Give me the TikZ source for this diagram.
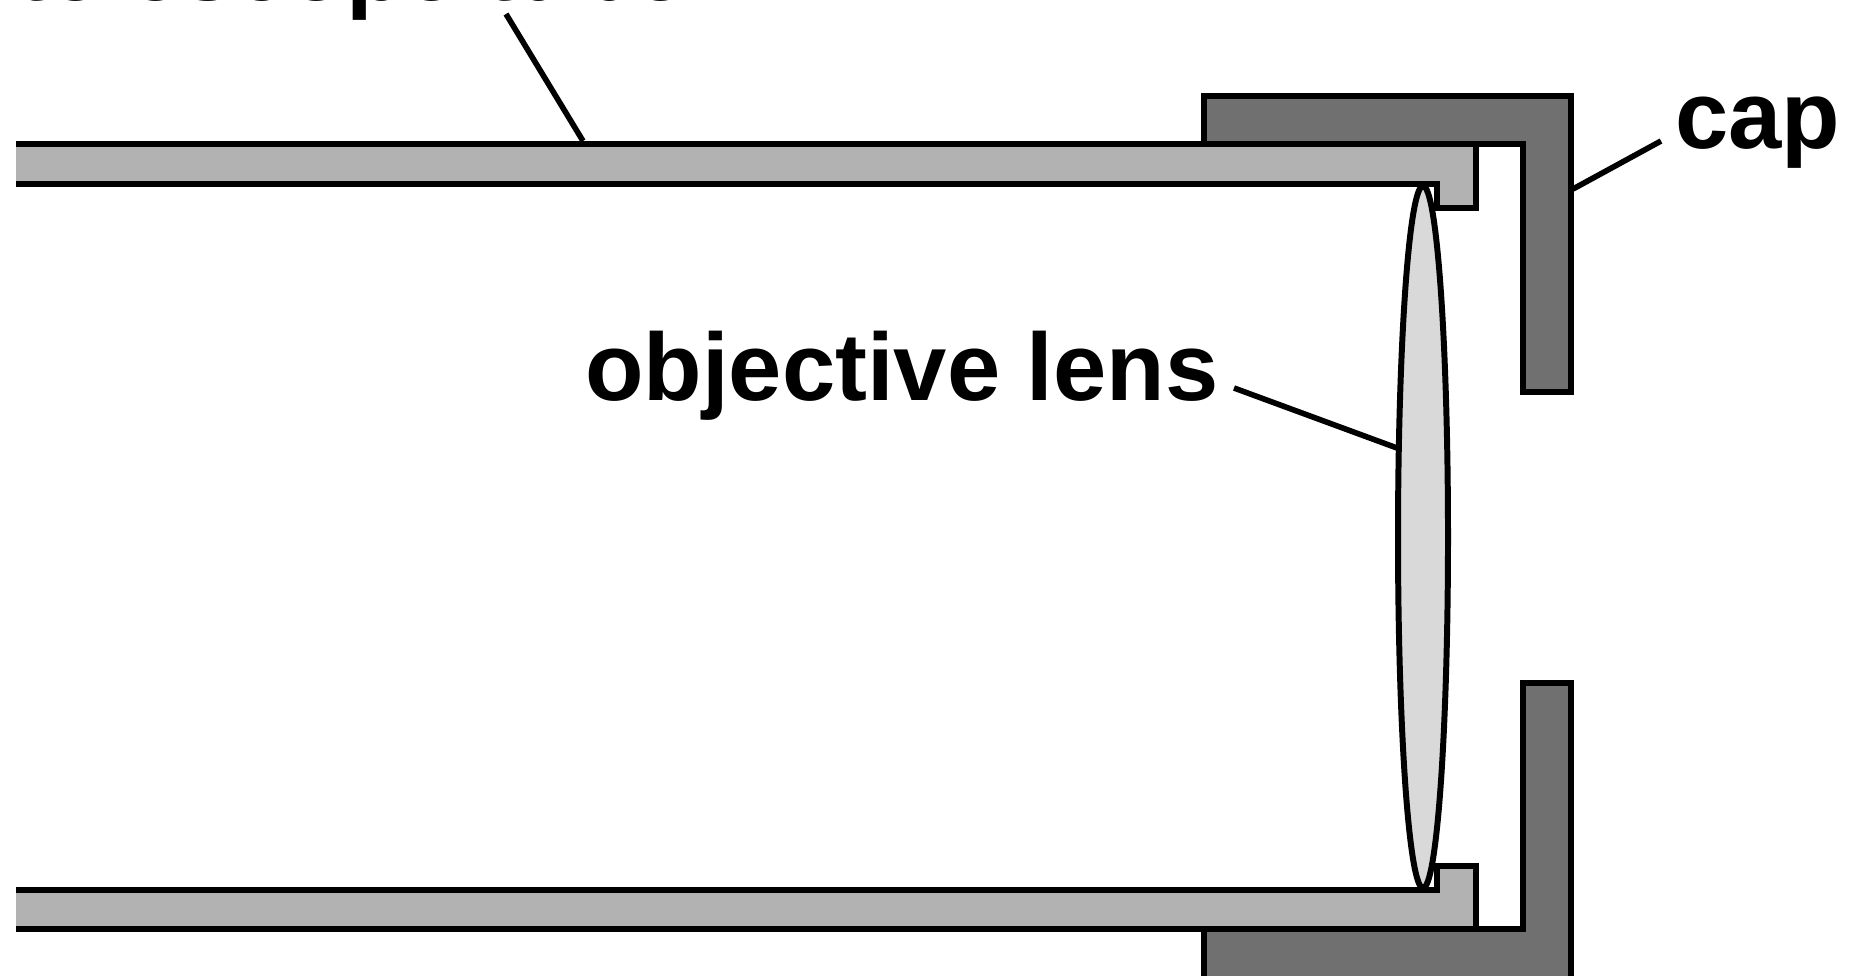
\documentclass[tikz,border=0pt]{standalone}
\usepackage{fontspec}
\setmainfont{Liberation Sans}
\usetikzlibrary{positioning}
\definecolor{tubegray}{RGB}{178,178,178}
\definecolor{capgray}{RGB}{112,112,112}
\definecolor{lensgray}{RGB}{217,217,217}
\tikzset{
  part/.style={draw=black, line width=3.8pt, miter limit=10},
  leader/.style={draw=black, line width=3.2pt},
  label/.style={anchor=base west, inner sep=0pt, font=\fontsize{54.5}{62}\selectfont\bfseries},
}

\begin{document}
\begin{tikzpicture}[x=0.02cm, y=-0.02cm]
  \clip (0,0) rectangle (1855,976);
  \fill[white] (0,0) rectangle (1855,976);
  % cap
  \path[part, fill=capgray] (1204,144) -- (1204,96) -- (1571,96) -- (1571,392) -- (1523,392) -- (1523,144) -- cycle;
  \path[part, fill=capgray] (1204,990) -- (1204,929) -- (1523,929) -- (1523,683) -- (1571,683) -- (1571,990);
  % tube
  \path[part, fill=tubegray] (16,144) -- (1476,144) -- (1476,208) -- (1437,208) -- (1437,184) -- (16,184);
  \path[part, fill=tubegray] (16,890) -- (1437,890) -- (1437,866) -- (1476,866) -- (1476,929) -- (16,929);
  % lens
  \path[draw=black, line width=3.4pt, fill=lensgray] (1423,537) ellipse [x radius=25, y radius=351];
  % labels
  \node[label] (tubelabel) at (16,1) {telescope tube};
  \node[label] (lenslabel) at (585,400) {objective lens};
  \node[label] (caplabel) at (1675,149) {cap};
  \coordinate (tubefrom) at (506,14);
  \coordinate (tubeto) at (583,141);
  \coordinate (lensfrom) at (1234,388);
  \coordinate (lensto) at (1397,448);
  \coordinate (capfrom) at (1661,141);
  \coordinate (capto) at (1573,189);
  \draw[leader] (tubefrom) -- (tubeto);
  \draw[leader] (lensfrom) -- (lensto);
  \draw[leader] (capfrom) -- (capto);
\end{tikzpicture}
\end{document}
